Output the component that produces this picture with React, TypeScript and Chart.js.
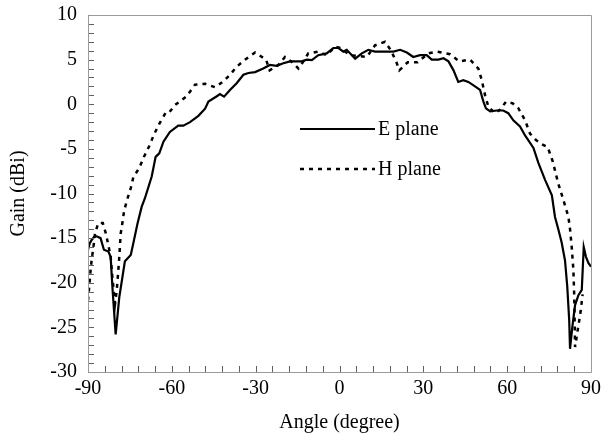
import React, { useEffect, useRef } from "react";
import { Chart, registerables } from "chart.js";

Chart.register(...registerables);

// Radiation pattern: angle (degree) vs gain (dBi)
const ePlaneAngle = [
  -90, -89.4, -88.7, -87.6, -86.9, -85.5, -84.3, -82.7, -81.9, -81.2, -80.1, -78.8, -76.8, -74.7, -73.8, -72.3,
  -70.8, -69.6, -67.2, -65.8, -64.5, -63.0, -60.7, -57.7, -55.9, -53.5, -50.5, -48.1, -46.9, -43.9, -42.8, -41.3,
  -39.2, -36.8, -34.4, -32.6, -30.2, -27.3, -24.9, -22.5, -20.1, -17.7, -13.5, -11.7, -9.9, -7.6, -4.6, -2.2,
  -0.4, 1.4, 2.6, 5.6, 8.0, 10.3, 12.7, 19.3, 21.7, 24.1, 26.4, 28.8, 31.2, 33.0, 35.4, 37.2, 39.0, 40.8, 42.5,
  44.3, 46.1, 48.5, 50.3, 51.5, 52.4, 53.9, 56.3, 58.6, 60.4, 62.2, 64.6, 66.4, 67.9, 69.4, 71.2, 73.6, 76.0,
  77.1, 78.3, 79.5, 80.7, 81.5, 82.2, 82.5, 83.3, 84.3, 85.5, 86.7, 87.4, 88.2, 89.1, 90,
];
const ePlaneGain = [
  -16.3, -15.6, -15.2, -14.8, -14.8, -15.0, -16.3, -16.5, -17.1, -20.8, -25.8, -21.6, -17.6, -16.9, -15.6, -13.4,
  -11.5, -10.5, -8.1, -5.9, -5.5, -4.2, -3.1, -2.4, -2.4, -2.0, -1.3, -0.5, 0.3, 0.9, 1.15, 0.85,
  1.6, 2.35, 3.3, 3.5, 3.6, 4.0, 4.4, 4.3, 4.6, 4.8, 4.8, 5.0, 4.95, 5.5, 5.7, 6.3,
  6.3, 5.9, 6.1, 5.1, 5.7, 6.1, 5.9, 5.9, 6.1, 5.8, 5.3, 5.5, 5.5, 5.0, 5.0, 5.15, 4.8, 3.8, 2.5,
  2.7, 2.5, 2.0, 1.6, 0.3, -0.45, -0.8, -0.7, -0.7, -1.0, -1.8, -2.5, -3.5, -4.2, -4.9, -6.6, -8.5, -10.2,
  -12.6, -14.0, -15.5, -17.5, -20.4, -24.2, -27.4, -25.0, -22.5, -21.4, -20.8, -16.0, -17.1, -17.8, -18.2,
];

const hPlaneAngle = [
  -90, -89.3, -89.0, -88.5, -87.9, -87.5, -86.3, -84.7, -83.6, -82.7, -81.9, -81.3, -80.3, -79.7, -79.1, -78.8,
  -78.3, -77.7, -77.1, -76.1, -74.7, -73.8, -71.6, -70.0, -68.1, -66.4, -64.5, -62.1, -60.9, -58.9, -54.7, -51.7,
  -48.1, -44.5, -41.8, -39.2, -36.8, -33.8, -30.2, -26.3, -25.0, -21.9, -19.5, -16.5, -14.7, -12.5, -11.2, -7.6,
  -4.6, -1.6, 0.2, 3.8, 6.5, 9.8, 12.7, 16.3, 18.5, 20.5, 21.4, 24.4, 27.9, 31.8, 34.8, 39.6, 42.9, 46.7, 49.7,
  50.9, 52.1, 53.3, 55.7, 57.5, 59.6, 62.0, 64.0, 66.4, 68.2, 70.3, 72.5, 74.5, 76.3, 78.3, 80.1, 81.9, 82.5,
  83.1, 83.7, 84.0, 84.3, 85.3, 86.3, 87.0,
];
const hPlaneGain = [
  -22.0, -19.5, -18.3, -17.0, -15.6, -14.5, -13.3, -13.3, -14.5, -15.8, -17.1, -19.3, -22.3, -20.8, -18.4, -17.1,
  -14.5, -13.3, -12.0, -10.8, -9.4, -8.2, -7.1, -5.9, -4.7, -3.4, -2.2, -0.9, -0.9, -0.1, 0.9, 2.2,
  2.3, 1.9, 2.5, 3.3, 4.2, 5.0, 5.8, 5.0, 3.8, 4.4, 5.3, 4.6, 4.0, 5.0, 5.7, 5.9,
  5.5, 6.45, 6.3, 5.5, 5.4, 5.3, 6.6, 7.0, 6.0, 4.6, 3.8, 4.7, 4.7, 5.7, 5.9, 5.6, 4.8, 5.0, 4.0,
  2.7, 1.0, -0.3, -1.0, -0.6, 0.3, 0.1, -0.45, -1.8, -3.3, -4.0, -4.5, -4.8, -6.4, -8.9, -10.7, -12.6, -14.0,
  -16.0, -18.6, -21.5, -27.2, -25.2, -23.2, -21.3,
];

const seriesNames = ["E plane", "H plane"];
const xTickStep = 6;
const xLabelStep = 30;
const yTickStep = 1;
const yLabelStep = 5;

const FONT = "'Liberation Serif', 'Times New Roman', serif";
const FRAME = "#9a9a9a";
const TICK = "#606060";

// Frame, inward tick marks and the inset legend
const decorations = {
  id: "decorations",
  afterDraw(chart: any) {
    const ctx: CanvasRenderingContext2D = chart.ctx;
    const a = chart.chartArea;
    const xs = chart.scales.x;
    const ys = chart.scales.y;
    ctx.save();
    ctx.setLineDash([]);
    ctx.globalAlpha = 1;
    ctx.lineWidth = 1;

    ctx.strokeStyle = TICK;
    ctx.beginPath();
    for (const t of xs.ticks) {
      const px = Math.round(xs.getPixelForValue(t.value)) + 0.5;
      ctx.moveTo(px, a.bottom);
      ctx.lineTo(px, a.bottom - 6);
    }
    for (const t of ys.ticks) {
      const py = Math.round(ys.getPixelForValue(t.value)) + 0.5;
      ctx.moveTo(a.left, py);
      ctx.lineTo(a.left + 6, py);
    }
    ctx.stroke();

    ctx.strokeStyle = FRAME;
    ctx.beginPath();
    ctx.rect(Math.round(a.left) + 0.5, Math.round(a.top) + 0.5, Math.round(a.right - a.left), Math.round(a.bottom - a.top));
    ctx.stroke();

    // legend
    const lx0 = 300;
    const lx1 = 375;
    const rows = [129, 169];
    ctx.fillStyle = "#000";
    ctx.font = `20px ${FONT}`;
    ctx.textBaseline = "middle";
    chart.data.datasets.forEach((ds: any, i: number) => {
      ctx.strokeStyle = "#000";
      ctx.lineWidth = ds.borderWidth;
      ctx.setLineDash(ds.borderDash || []);
      ctx.beginPath();
      ctx.moveTo(lx0, rows[i]);
      ctx.lineTo(lx1, rows[i]);
      ctx.stroke();
      ctx.setLineDash([]);
      ctx.fillText(ds.label, lx1 + 3, rows[i] + 1);
    });
    ctx.restore();
  },
};

export default function App() {
  const ref = useRef<HTMLCanvasElement | null>(null);

  useEffect(() => {
    document.body.style.margin = "0";
    const toPoints = (xs: number[], ys: number[]) => xs.map((x, i) => ({ x, y: ys[i] }));
    const chart = new Chart(ref.current as HTMLCanvasElement, {
      type: "line",
      data: {
        datasets: [
          {
            label: seriesNames[0],
            data: toPoints(ePlaneAngle, ePlaneGain),
            borderColor: "#000",
            borderWidth: 2.2,
            pointRadius: 0,
            tension: 0,
          },
          {
            label: seriesNames[1],
            data: toPoints(hPlaneAngle, hPlaneGain),
            borderColor: "#000",
            borderWidth: 2.5,
            borderDash: [4, 5],
            pointRadius: 0,
            tension: 0,
          },
        ],
      },
      options: {
        responsive: false,
        animation: false,
        layout: { padding: { top: 15, right: 13, left: 0, bottom: 0 } },
        plugins: { legend: { display: false }, tooltip: { enabled: false } },
        scales: {
          x: {
            type: "linear",
            min: -90,
            max: 90,
            grid: { display: false, drawTicks: false },
            border: { display: false },
            afterFit: (s: any) => {
              s.height = 64;
              s.paddingLeft = 0;
              s.paddingRight = 0;
            },
            ticks: {
              stepSize: xTickStep,
              autoSkip: false,
              maxRotation: 0,
              padding: 5,
              color: "#000",
              font: { family: FONT, size: 20 },
              callback: (v: any) => (Number(v) % xLabelStep === 0 ? String(v) : ""),
            },
            title: {
              display: true,
              text: "Angle (degree)",
              color: "#000",
              font: { family: FONT, size: 20 },
              padding: { top: 0, bottom: 1 },
            },
          },
          y: {
            type: "linear",
            min: -30,
            max: 10,
            grid: { display: false, drawTicks: false },
            border: { display: false },
            afterFit: (s: any) => {
              s.width = 88;
              s.paddingTop = 0;
              s.paddingBottom = 0;
            },
            ticks: {
              stepSize: yTickStep,
              autoSkip: false,
              padding: 11,
              color: "#000",
              font: { family: FONT, size: 20 },
              callback: (v: any) => (Number(v) % yLabelStep === 0 ? String(v) : ""),
            },
            title: {
              display: true,
              text: "Gain (dBi)",
              color: "#000",
              font: { family: FONT, size: 20 },
              padding: { top: 7, bottom: 0 },
            },
          },
        },
      },
      plugins: [decorations],
    });
    return () => chart.destroy();
  }, []);

  return (
    <div style={{ width: 604, height: 436, background: "#fff" }}>
      <canvas ref={ref} width={604} height={436} style={{ display: "block" }} />
    </div>
  );
}
